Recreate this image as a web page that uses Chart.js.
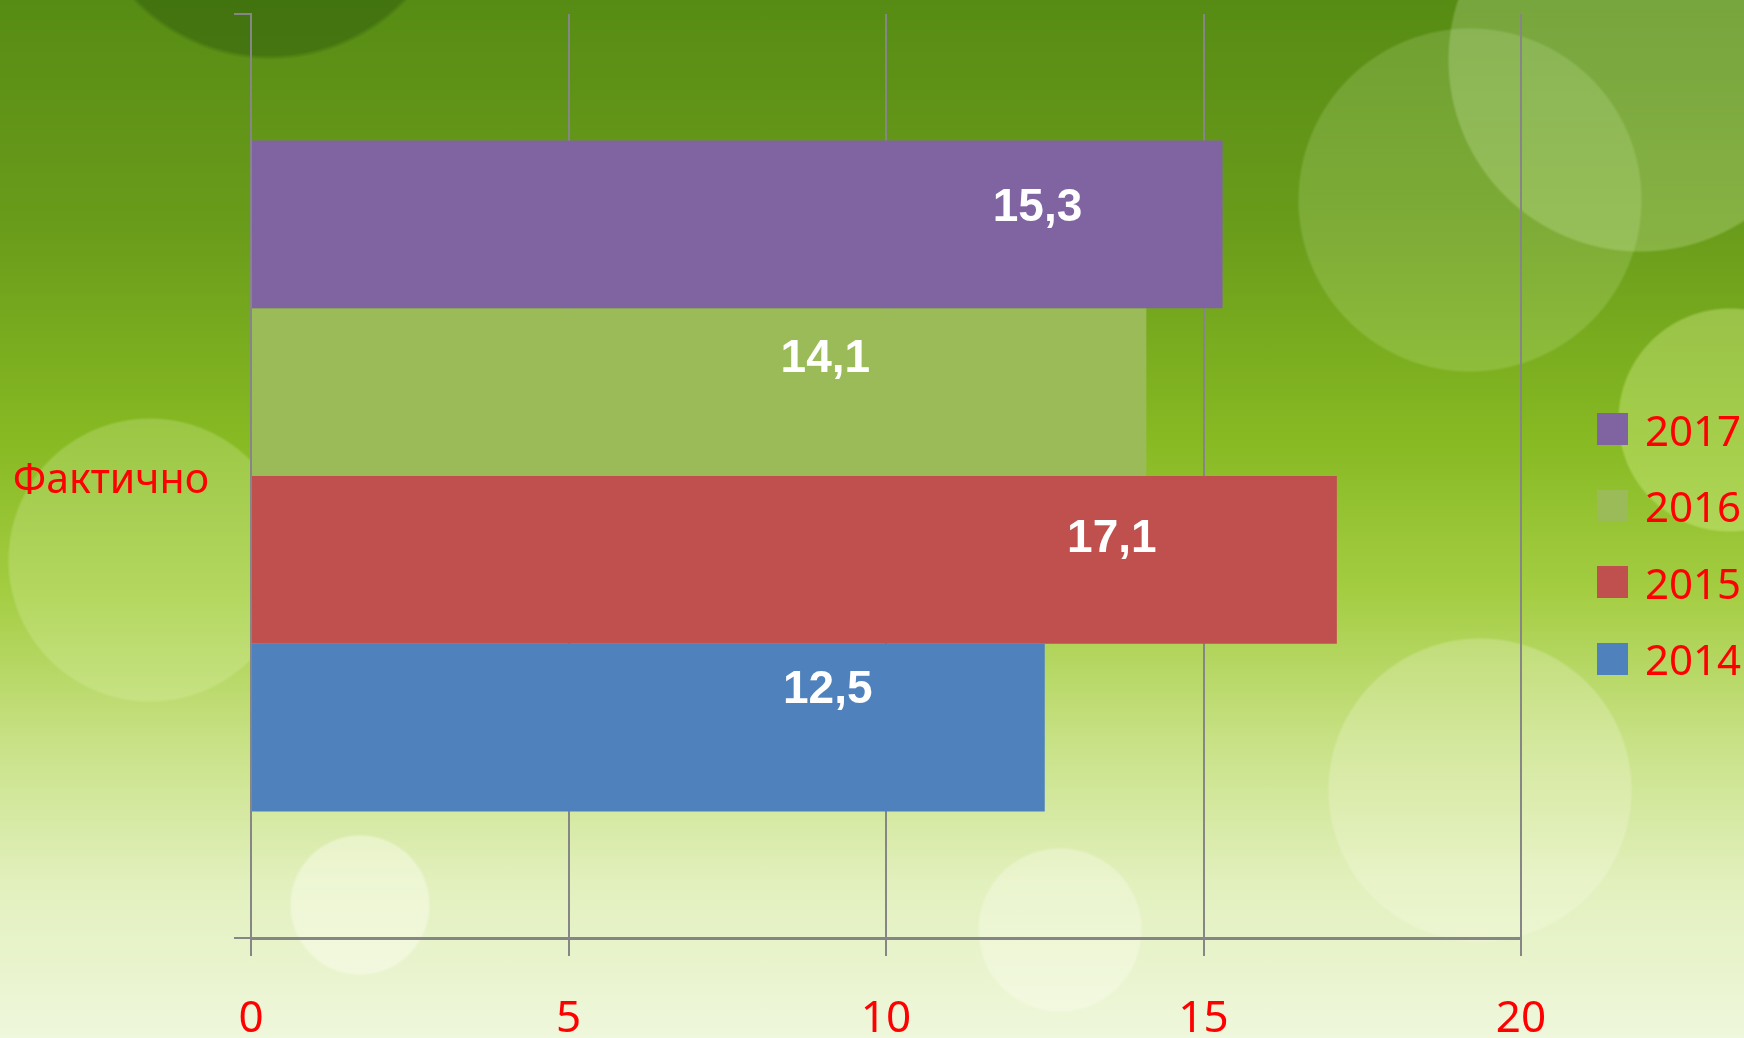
<!DOCTYPE html>
<html lang="ru">

<head>
    <meta charset="UTF-8">
    <title>Фактично</title>
    <style>
        html, body {
            margin: 0;
            padding: 0;
        }

        #wrap {
            position: relative;
            width: 1744px;
            height: 1038px;
            overflow: hidden;
            background:
                radial-gradient(circle at 1470px 200px, rgba(230, 255, 200, 0.16) 0 170px, transparent 173px),
                radial-gradient(circle at 1640px 60px, rgba(235, 255, 210, 0.22) 0 190px, transparent 193px),
                radial-gradient(circle at 270px -130px, rgba(40, 85, 10, 0.45) 0 185px, transparent 190px),
                radial-gradient(circle at 1730px 420px, rgba(220, 245, 150, 0.35) 0 110px, transparent 113px),
                radial-gradient(circle at 360px 905px, rgba(255, 255, 245, 0.4) 0 68px, transparent 71px),
                radial-gradient(circle at 1060px 930px, rgba(255, 255, 245, 0.3) 0 80px, transparent 83px),
                radial-gradient(circle at 150px 560px, rgba(225, 245, 180, 0.25) 0 140px, transparent 143px),
                radial-gradient(circle at 1480px 790px, rgba(255, 255, 240, 0.22) 0 150px, transparent 153px),
                linear-gradient(180deg, #578c14 0%, #6a9c1b 22%, #86b922 42%, #a4cd42 57%, #c9e288 72%, #e2f0bd 85%, #eff7dc 100%);
        }

        #wrap canvas {
            position: absolute;
            left: 0;
            top: 0;
        }

        #legend {
            position: absolute;
            left: 1597px;
            top: 391px;
            font-family: 'Noto Sans', sans-serif;
            font-size: 42px;
            color: #ff0000;
        }

        .item {
            display: flex;
            align-items: center;
            height: 76.5px;
        }

        .box {
            width: 31px;
            height: 32px;
            margin-right: 17px;
        }
    </style>
</head>

<body>
    <div id="wrap">
        <canvas id="bars" width="1744" height="1038"></canvas>
        <div id="legend"></div>
    </div>
    <script src="https://cdn.jsdelivr.net/npm/chart.js@4.4.0/dist/chart.umd.min.js"></script>
    <script>
        const categories = ['Фактично']
        const years = ['2017', '2016', '2015', '2014']
        const values = [15.3, 14.1, 17.1, 12.5]
        const xTicks = [0, 5, 10, 15, 20]

        const colors = ['#8064A2', '#9BBB59', '#C0504D', '#4F81BD']
        // where the value labels sit, measured back from the bar end / up from its middle
        const labelShift = [[185, 16], [321, 33], [225, 21], [217, 37]]

        const datasets = years.map((year, i) => ({
            label: year,
            data: [values[i]],
            backgroundColor: colors[i],
            borderWidth: 0,
            categoryPercentage: 0.726,
            barPercentage: 1
        }))

        const valueLabels = {
            id: 'valueLabels',
            afterDatasetsDraw(chart) {
                const ctx = chart.ctx
                ctx.save()
                ctx.fillStyle = '#ffffff'
                ctx.font = 'bold 46px "Liberation Sans", Arial, sans-serif'
                ctx.textAlign = 'center'
                ctx.textBaseline = 'middle'
                chart.data.datasets.forEach((ds, i) => {
                    const bar = chart.getDatasetMeta(i).data[0]
                    const text = String(ds.data[0]).replace('.', ',')
                    ctx.fillText(text, bar.x - labelShift[i][0], bar.y - labelShift[i][1])
                })
                ctx.restore()
            }
        }

        const gridGray = '#868686'

        const config = {
            type: 'bar',
            data: {
                labels: categories,
                datasets: datasets
            },
            options: {
                indexAxis: 'y',
                responsive: false,
                animation: false,
                layout: {
                    padding: { left: 12, right: 223, top: 14, bottom: 0 }
                },
                plugins: {
                    legend: { display: false },
                    tooltip: { enabled: false }
                },
                scales: {
                    x: {
                        min: 0,
                        max: 20,
                        afterBuildTicks: scale => {
                            scale.ticks = xTicks.map(v => ({ value: v }))
                        },
                        afterFit: scale => {
                            scale.height = 100
                            scale.paddingLeft = 0
                            scale.paddingRight = 0
                        },
                        grid: {
                            color: gridGray,
                            lineWidth: 2,
                            tickLength: 18,
                            tickColor: gridGray
                        },
                        border: {
                            display: true,
                            color: gridGray,
                            width: 3
                        },
                        ticks: {
                            color: '#ff0000',
                            padding: 41,
                            font: { family: 'Noto Sans', size: 44, lineHeight: 1 }
                        }
                    },
                    y: {
                        afterFit: scale => {
                            scale.width = 239
                            scale.paddingTop = 0
                            scale.paddingBottom = 0
                        },
                        grid: {
                            offset: true,
                            drawOnChartArea: false,
                            color: gridGray,
                            lineWidth: 2,
                            tickLength: 17
                        },
                        border: {
                            display: true,
                            color: gridGray,
                            width: 2
                        },
                        ticks: {
                            color: '#ff0000',
                            padding: 25,
                            labelOffset: 5,
                            font: { family: 'Noto Sans', size: 41 }
                        }
                    }
                }
            },
            plugins: [valueLabels]
        }

        const chart = new Chart(document.getElementById('bars'), config)

        const legendEl = document.getElementById('legend')
        years.forEach((year, i) => {
            const row = document.createElement('div')
            row.className = 'item'
            const box = document.createElement('div')
            box.className = 'box'
            box.style.background = colors[i]
            const label = document.createElement('span')
            label.textContent = year
            row.appendChild(box)
            row.appendChild(label)
            legendEl.appendChild(row)
        })
    </script>
</body>

</html>
